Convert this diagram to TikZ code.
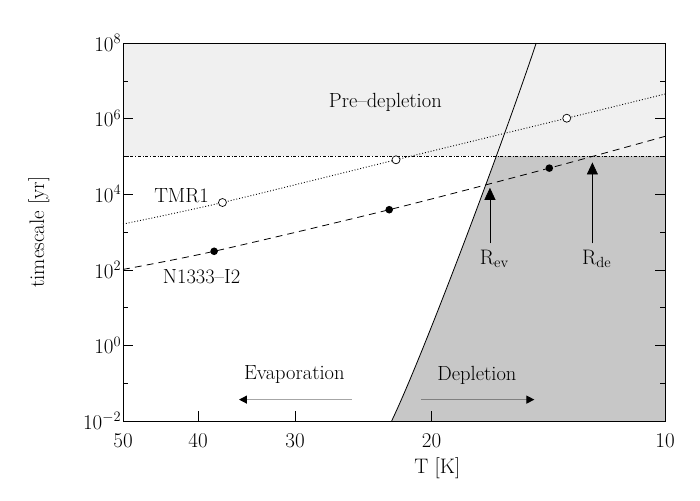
\documentclass[tikz,border=0pt]{standalone}
\usepackage{fontspec}
\usetikzlibrary{arrows.meta}
\begin{document}
\begin{tikzpicture}[x=1pt,y=1pt,
  lbl/.style={font=\fontsize{20.5}{22}\selectfont},
  tk/.style={font=\fontsize{21}{23}\selectfont},
  oc/.style={draw,fill=white,line width=0.7pt},
  fc/.style={fill=black}]
\useasboundingbox[fill=white] (0,0) rectangle (700,-500);
\begin{scope}[shift={(123,-421)},x=542pt,y=37.8pt]
 \fill[black!6] (0,7) rectangle (1,10);
 \begin{scope}
  \clip (0,0) rectangle (1,7);
  \fill[black!22] (0.4956,0) .. controls (0.5556,1.8) and (0.7024,7.42) .. (0.7624,10) -- (1,10) -- (1,0) -- cycle;
 \end{scope}
 \draw[line width=0.8pt] (0.4956,0) .. controls (0.5556,1.8) and (0.7024,7.42) .. (0.7624,10);
 \draw[dash dot,line width=0.7pt] (0,7) -- (1,7);
 \draw[dotted,line width=0.9pt] plot[smooth] coordinates {(0,5.21) (0.1835,5.78) (0.5037,6.91) (0.8187,8.01) (1,8.65)};
 \draw[dashed,dash pattern=on 7pt off 5pt,line width=0.8pt] plot[smooth] coordinates {(0,4.01) (0.1681,4.49) (0.4912,5.59) (0.7865,6.69) (1,7.53)};
 \foreach \p in {(0.1835,5.78),(0.5037,6.91),(0.8187,8.01)} \draw[oc] \p circle[radius=4pt];
 \foreach \p in {(0.1681,4.49),(0.4912,5.59),(0.7865,6.69)} \fill[fc] \p circle[radius=3.8pt];
 \coordinate (revs) at (0.677,4.70); \coordinate (revt) at (0.677,6.17);
 \coordinate (rdes) at (0.866,4.70); \coordinate (rdet) at (0.866,6.84);
 \draw[line width=0.7pt,-{Triangle[length=12pt,width=11pt]}] (revs) -- (revt);
 \draw[line width=0.7pt,-{Triangle[length=12pt,width=11pt]}] (rdes) -- (rdet);
 \node[tk] (rev) at (0.685,4.3) {R$_{\mathrm{ev}}$};
 \node[tk] (rde) at (0.874,4.3) {R$_{\mathrm{de}}$};
 \node[lbl] (pre) at (0.484,8.42) {Pre--depletion};
 \node[lbl] (tmr) at (0.108,5.97) {TMR1};
 \node[lbl] (n13) at (0.145,3.81) {N1333--I2};
 \node[lbl] (evap) at (0.316,1.22) {Evaporation};
 \node[lbl] (depl) at (0.653,1.22) {Depletion};
 \coordinate (ea) at (0.422,0.566); \coordinate (eb) at (0.214,0.566);
 \coordinate (da) at (0.5505,0.566); \coordinate (db) at (0.759,0.566);
 \draw[black!35,line width=1.2pt,-{Triangle[length=8pt,width=8pt,fill=black,color=black]}] (ea) -- (eb);
 \draw[black!50,line width=1.2pt,-{Triangle[length=8pt,width=8pt,fill=black,color=black]}] (da) -- (db);
 \draw[line width=0.9pt] (0,0) rectangle (1,10);
 \foreach \v in {0,2,4,6,8,10} {\draw (0,\v) -- ++(10pt,0); \draw (1,\v) -- ++(-10pt,0);}
 \foreach \v in {1,3,5,7,9} {\draw (0,\v) -- ++(5pt,0); \draw (1,\v) -- ++(-5pt,0);}
 \foreach \u in {0.1386,0.3174,0.5693} {\draw (\u,0) -- ++(0,10pt);}
 \foreach \u/\t in {0/50,0.1386/40,0.3174/30,0.5693/20,1/10} \node[tk] at (\u,-0.52) {\t};
 \foreach \v/\t in {0/-2,2/0,4/2,6/4,8/6,10/8} \node[tk,anchor=east] at (0.003,\v) {10$^{\t}$};
 \node[tk] (xl) at (0.58,-1.25) {T [K]};
 \node[tk,rotate=90] (yl) at (-0.155,5) {timescale [yr]};
\end{scope}
\end{tikzpicture}
\end{document}
